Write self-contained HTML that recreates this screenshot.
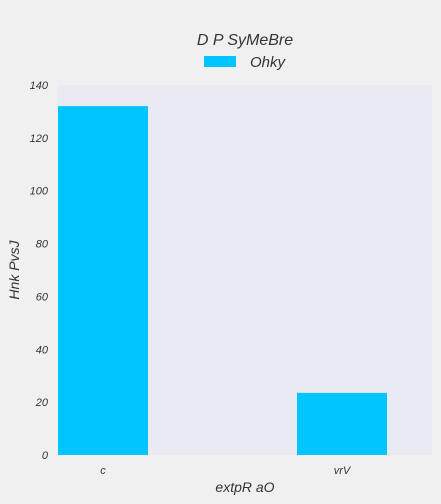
<!DOCTYPE html>
<html><head><meta charset="utf-8"><style>
body{margin:0;background:#f0f0f0;width:441px;height:504px;overflow:hidden}
svg{display:block}
text{font-family:"Liberation Sans",sans-serif;font-style:italic;fill:#333}
</style></head><body>
<svg id="chart" width="441" height="504" xmlns="http://www.w3.org/2000/svg">
<rect x="0" y="0" width="441" height="504" fill="#f0f0f0"/>
<rect x="58" y="85" width="374" height="370" fill="#eaeaf2"/>
<text x="245" y="45" font-size="16" text-anchor="middle">D P  SyMeBre</text>
<rect x="204" y="56" width="32" height="11" fill="#00c5ff"/>
<text x="250" y="67" font-size="15">Ohky</text>
<text x="245" y="492" font-size="14" text-anchor="middle">extpR aO</text>
<text x="19" y="270" font-size="14" text-anchor="middle" transform="rotate(-90 19 270)">Hnk PvsJ</text>
<g id="bars"></g><g id="yticks"></g><g id="xticks"></g>
</svg>
<script>
const categories=["c","vrV"];
const values=[132,23.5];
const yTicks=[0,20,40,60,80,100,120,140];
const ns="http://www.w3.org/2000/svg";
function y(v){return 455-(v/140)*370;}
function xc(i){return 103+i*239;}
const bars=document.getElementById('bars');
values.forEach((v,i)=>{
 const r=document.createElementNS(ns,'rect');
 r.setAttribute('x',xc(i)-45);r.setAttribute('width',90);
 r.setAttribute('y',y(v));r.setAttribute('height',455-y(v));
 r.setAttribute('fill','#00c5ff');
 
 
 bars.appendChild(r);
 const t=document.createElementNS(ns,'text');
 t.setAttribute('x',xc(i));t.setAttribute('y',474);t.setAttribute('font-size','11');t.setAttribute('text-anchor','middle');
 t.textContent=categories[i];
 
 
 document.getElementById('xticks').appendChild(t);
});
yTicks.forEach(v=>{
 const t=document.createElementNS(ns,'text');
 t.setAttribute('x',48);t.setAttribute('y',y(v)+4);t.setAttribute('font-size','11');t.setAttribute('text-anchor','end');
 t.textContent=v;
 
 
 document.getElementById('yticks').appendChild(t);
});
</script>
</body></html>
